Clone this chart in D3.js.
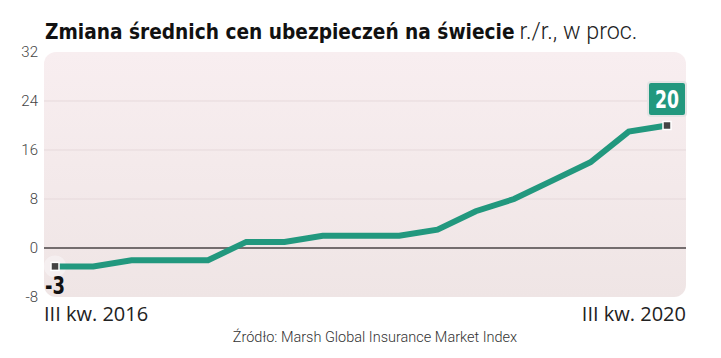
<!DOCTYPE html>
<html><head><meta charset="utf-8">
<script src="https://cdn.jsdelivr.net/npm/d3@7"></script>
<style>html,body{margin:0;padding:0;background:#fff;}svg{display:block;}</style>
</head><body>
<script>
const quarters = ["III 2016","IV 2016","I 2017","II 2017","III 2017","IV 2017","I 2018","II 2018","III 2018","IV 2018","I 2019","II 2019","III 2019","IV 2019","I 2020","II 2020","III 2020"];
const values = [-3,-3,-2,-2,-2,1,1,2,2,2,3,6,8,11,14,19,20];
const yTicks = [-8,0,8,16,24,32];
const titleBold = "Zmiana średnich cen ubezpieczeń na świecie";
const titleLight = "r./r., w proc.";
const xStartLabel = "III kw. 2016";
const xEndLabel = "III kw. 2020";
const source = "Źródło: Marsh Global Insurance Market Index";

const W = 721, H = 358;
const svg = d3.select("body").append("svg").attr("width", W).attr("height", H);
const plot = {left: 44, right: 686, top: 52, bottom: 297};
const x = d3.scalePoint().domain(quarters).range([55, 667]);
const y = d3.scaleLinear().domain([-8, 32]).range([plot.bottom, plot.top]);

const defs = svg.append("defs");
const grad = defs.append("linearGradient").attr("id","bg").attr("x1",0).attr("y1",0).attr("x2",0).attr("y2",1);
grad.append("stop").attr("offset","0%").attr("stop-color","#f8eef0");
grad.append("stop").attr("offset","100%").attr("stop-color","#efe5e5");

svg.append("rect").attr("x", plot.left).attr("y", plot.top)
  .attr("width", plot.right - plot.left).attr("height", plot.bottom - plot.top)
  .attr("rx", 12).attr("fill", "url(#bg)");

// gridlines
svg.append("g").selectAll("line").data(yTicks.filter(d => d !== 0 && d !== -8 && d !== 32)).join("line")
  .attr("x1", plot.left).attr("x2", plot.right)
  .attr("y1", d => y(d)).attr("y2", d => y(d))
  .attr("stroke", "#e6d9db").attr("stroke-width", 1);

// zero line
svg.append("line").attr("x1", plot.left).attr("x2", plot.right)
  .attr("y1", y(0)).attr("y2", y(0)).attr("stroke", "#4a4446").attr("stroke-width", 1.5);

// y axis labels
const yAxis = d3.axisLeft(y).tickValues(yTicks).tickSize(0).tickPadding(0).tickFormat(d => String(d));
const yg = svg.append("g").attr("transform", `translate(38,0)`).call(yAxis);
yg.select(".domain").remove();
yg.selectAll("text").attr("font-family", "Roboto, 'Open Sans', sans-serif").attr("font-weight", 300)
  .attr("font-size", 15).attr("fill", "#444");

// start halo
svg.append("circle").attr("cx", x(quarters[0])).attr("cy", y(values[0])).attr("r", 11)
  .attr("fill", "#f6f1f2").attr("opacity", 0.8);

// line
const line = d3.line().x((d, i) => x(quarters[i])).y(d => y(d));
svg.append("path").datum(values).attr("d", line).attr("fill", "none")
  .attr("stroke", "#22987e").attr("stroke-width", 6).attr("stroke-linejoin", "miter");

// markers
[0, values.length - 1].forEach(i => {
  svg.append("rect").attr("x", x(quarters[i]) - 4).attr("y", y(values[i]) - 4)
    .attr("width", 8).attr("height", 8).attr("fill", "#444").attr("stroke", "#fff").attr("stroke-width", 1.5);
});

const condensed = "'Liberation Sans Narrow', 'DejaVu Sans Condensed', sans-serif";
// start label
svg.append("text").attr("x", 45).attr("y", 294).text(values[0])
  .attr("font-family", condensed)
  .attr("font-weight", 700).attr("font-size", 25).attr("fill", "#111")
  .attr("textLength", 20).attr("lengthAdjust", "spacingAndGlyphs");

// end label box
svg.append("rect").attr("x", 648).attr("y", 82).attr("width", 38).attr("height", 34).attr("rx", 3)
  .attr("fill", "#22987e").attr("stroke", "#e4e4e4").attr("stroke-width", 2);
svg.append("text").attr("x", 655).attr("y", 108).text(values[values.length - 1])
  .attr("font-family", condensed)
  .attr("font-weight", 700).attr("font-size", 25).attr("fill", "#fff")
  .attr("textLength", 24).attr("lengthAdjust", "spacingAndGlyphs");

// title
const tb = svg.append("text").attr("x", 45).attr("y", 39).text(titleBold)
  .attr("font-family", condensed)
  .attr("font-weight", 700).attr("font-size", 25).attr("fill", "#111");
let bw = tb.node().getComputedTextLength();
tb.attr("font-size", 25 * 470 / bw);
bw = tb.node().getComputedTextLength();
const tl = svg.append("text").attr("x", 45 + bw + 5).attr("y", 39).text(titleLight)
  .attr("font-family", "Roboto, sans-serif").attr("font-weight", 300).attr("font-size", 23).attr("fill", "#222");
const lw = tl.node().getComputedTextLength();
tl.attr("font-size", 23 * 118 / lw);

// x labels
svg.append("text").attr("x", 44).attr("y", 321).text(xStartLabel)
  .attr("font-family", "'Open Sans', sans-serif").attr("font-size", 20).attr("fill", "#222");
svg.append("text").attr("x", 686).attr("y", 321).attr("text-anchor", "end").text(xEndLabel)
  .attr("font-family", "'Open Sans', sans-serif").attr("font-size", 20).attr("fill", "#222");

// source
svg.append("text").attr("x", 375).attr("y", 342).attr("text-anchor", "middle").text(source)
  .attr("font-family", "Roboto, sans-serif").attr("font-weight", 300).attr("font-size", 14.5).attr("fill", "#333");
</script>
</body></html>
